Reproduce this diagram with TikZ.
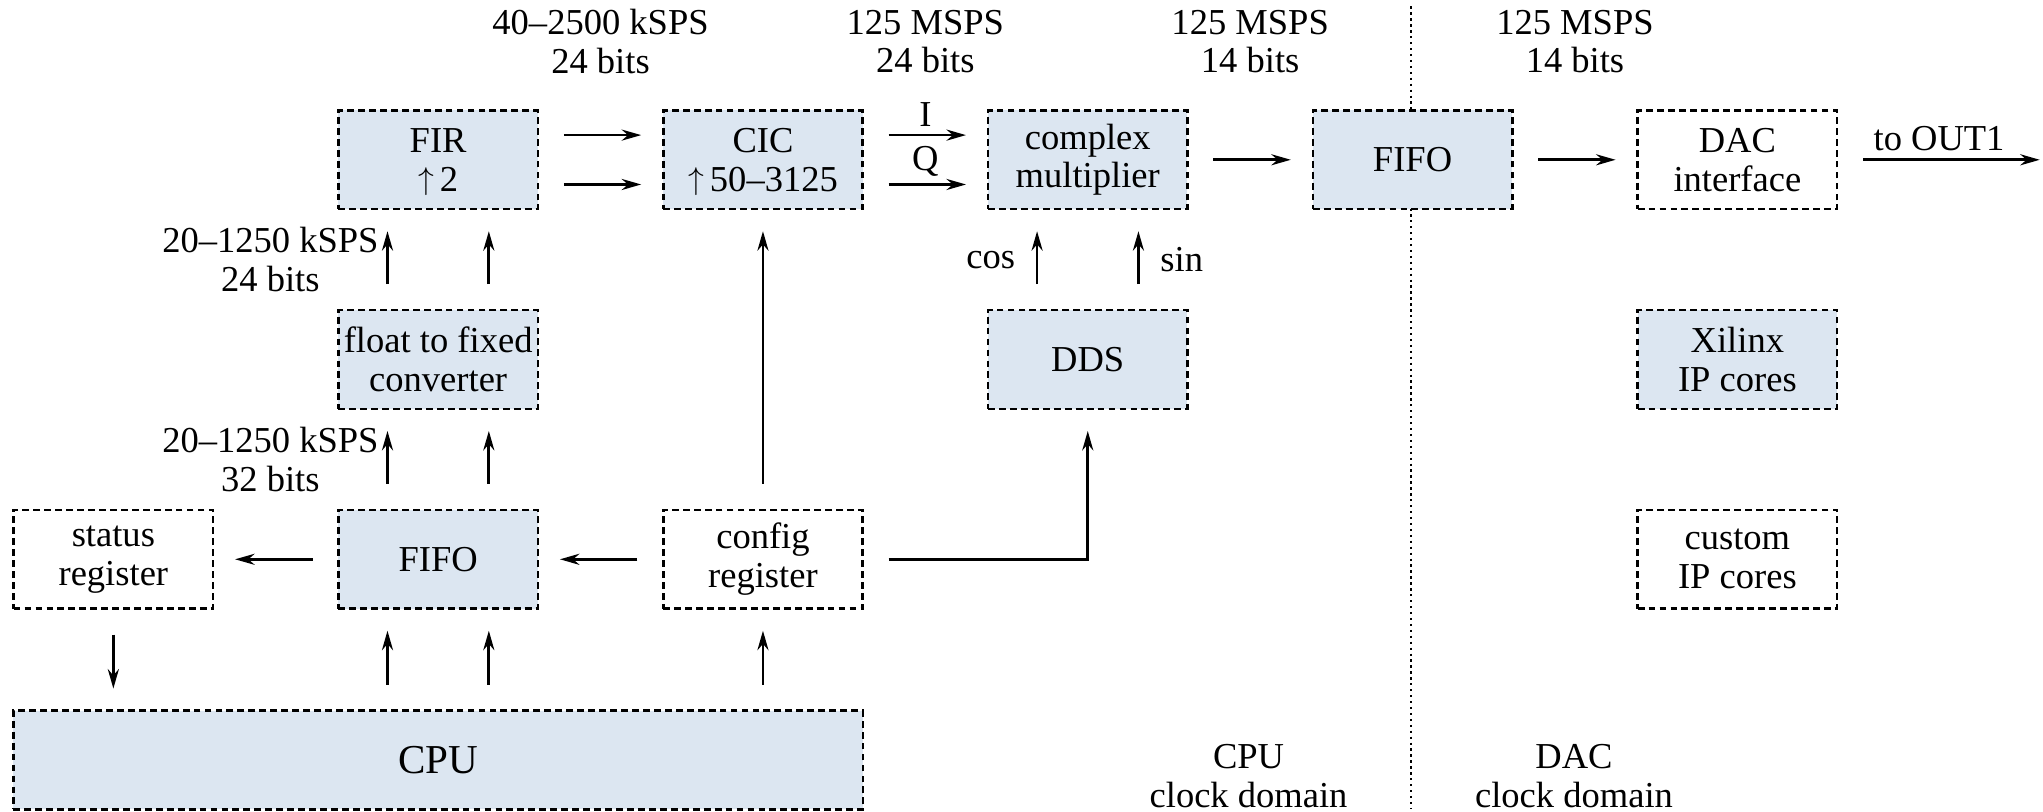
\documentclass[tikz,border=0pt]{standalone}
\usepackage{fontspec}
\setmainfont{Liberation Serif}
\usetikzlibrary{arrows.meta}
\definecolor{blockblue}{RGB}{220,230,241}
\tikzset{
  block/.style={draw, line width=1.1pt, dash pattern=on 3pt off 1.8pt, fill=blockblue,
    minimum width=3.07cm, minimum height=1.52cm, inner sep=1pt, align=center},
  plainblock/.style={block, fill=white},
  arr/.style={-{Stealth[length=0.3cm,width=0.17cm]}, line width=1.2pt,
    shorten <=0.38cm, shorten >=0.32cm},
  lbl/.style={align=center}
}
\newcommand{\upby}{\raisebox{0.05em}[0.6em][0pt]{\scalebox{0.8}{$\uparrow$}}\,}
\begin{document}
\begin{tikzpicture}[font=\fontsize{16}{17}\selectfont]
            \useasboundingbox (0,0) rectangle (31.45,12.50);
            \draw[line width=1pt, dash pattern=on 1pt off 1.6pt] (21.725,12.40) -- (21.725,0.06);
            \node[block] (fir) at (6.745,10.04) {FIR\\\upby 2};
            \node[block] (cic) at (11.745,10.04) {CIC\\\upby 50--3125};
            \node[block] (mult) at (16.745,10.04) {complex\\multiplier};
            \node[block] (dacfifo) at (21.745,10.04) {FIFO};
            \node[plainblock] (dac) at (26.745,10.04) {DAC\\interface};
            \node[block] (conv) at (6.745,6.965) {float to fixed\\converter};
            \node[block] (dds) at (16.745,6.965) {DDS};
            \node[block] (xilinx) at (26.745,6.965) {Xilinx\\IP cores};
            \node[plainblock] (status) at (1.745,3.89) {status\\register};
            \node[block] (cpufifo) at (6.745,3.89) {FIFO};
            \node[plainblock] (config) at (11.745,3.89) {config\\register};
            \node[plainblock] (custom) at (26.745,3.89) {custom\\IP cores};
            \node[block, minimum width=13.08cm, font=\fontsize{18}{18}\selectfont] (cpu) at (6.745,0.80) {CPU};
            \coordinate (out) at (31.40,10.04);
            \node[lbl] (rate1) at (9.245,11.86) {40--2500 kSPS\\24 bits};
            \node[lbl] (rate2) at (14.245,11.86) {125 MSPS\\24 bits};
            \node[lbl] (rate3) at (19.245,11.86) {125 MSPS\\14 bits};
            \node[lbl] (rate4) at (24.245,11.86) {125 MSPS\\14 bits};
            \node[lbl] (cpudomain) at (19.22,0.55) {CPU\\clock domain};
            \node[lbl] (dacdomain) at (24.23,0.55) {DAC\\clock domain};
            \draw[arr] ([yshift=0.38cm]fir.east) -- ([yshift=0.38cm]cic.west);
            \draw[arr] ([yshift=-0.38cm]fir.east) -- ([yshift=-0.38cm]cic.west);
            \draw[arr] ([yshift=0.38cm]cic.east) -- node[above, inner sep=3pt] {I} ([yshift=0.38cm]mult.west);
            \draw[arr] ([yshift=-0.38cm]cic.east) -- node[above, inner sep=3pt] {Q} ([yshift=-0.38cm]mult.west);
            \draw[arr] (mult) -- (dacfifo);
            \draw[arr] (dacfifo) -- (dac);
            \draw[arr, shorten >=0pt] (dac) -- node[above] {to OUT1} (out);
            \draw[arr] ([xshift=-0.78cm]conv.north) -- node[left, lbl] {20--1250 kSPS\\24 bits} ([xshift=-0.78cm]fir.south);
            \draw[arr] ([xshift=0.78cm]conv.north) -- ([xshift=0.78cm]fir.south);
            \draw[arr] ([xshift=-0.78cm]cpufifo.north) -- node[left, lbl] {20--1250 kSPS\\32 bits} ([xshift=-0.78cm]conv.south);
            \draw[arr] ([xshift=0.78cm]cpufifo.north) -- ([xshift=0.78cm]conv.south);
            \draw[arr] ([xshift=-0.78cm]dds.north) -- node[left=0.2cm] {cos} ([xshift=-0.78cm]mult.south);
            \draw[arr] ([xshift=0.78cm]dds.north) -- node[right=0.2cm] {sin} ([xshift=0.78cm]mult.south);
            \draw[arr] (config) -- (cic);
            \draw[arr] (config.east) -| (dds.south);
            \draw[arr] (config) -- (cpufifo);
            \draw[arr] (cpufifo) -- (status);
            \draw[arr] (status.south) -- (status.south |- cpu.north);
            \draw[arr] ([xshift=-0.78cm]cpufifo.south |- cpu.north) -- ([xshift=-0.78cm]cpufifo.south);
            \draw[arr] ([xshift=0.78cm]cpufifo.south |- cpu.north) -- ([xshift=0.78cm]cpufifo.south);
            \draw[arr] (config.south |- cpu.north) -- (config.south);
         \end{tikzpicture}
\end{document}
